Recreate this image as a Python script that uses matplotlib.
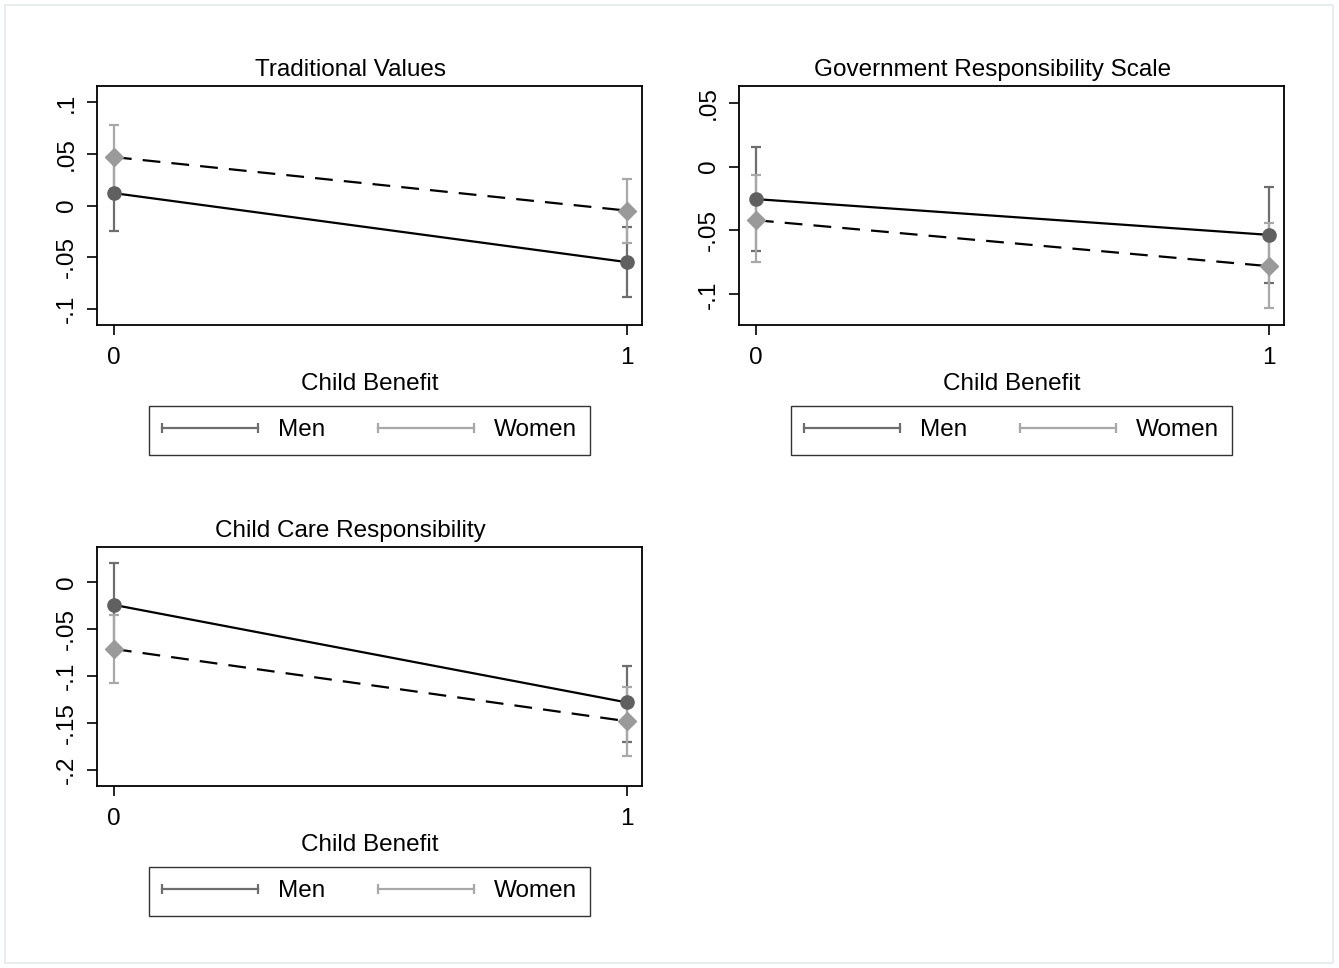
import matplotlib.pyplot as plt
from matplotlib.lines import Line2D
from matplotlib.legend_handler import HandlerBase
from matplotlib.patches import Rectangle

plt.rcParams['font.family'] = ['Liberation Sans', 'DejaVu Sans']

# Child benefit groups
x_vals = [0, 1]

# Traditional values: predicted margins with 95% CI
tv_men = [0.012, -0.055]
tv_men_lo = [-0.025, -0.089]
tv_men_hi = [0.048, -0.021]
tv_women = [0.047, -0.005]
tv_women_lo = [0.016, -0.036]
tv_women_hi = [0.078, 0.026]

# Government responsibility scale
gov_men = [-0.0255, -0.0535]
gov_men_lo = [-0.066, -0.091]
gov_men_hi = [0.0156, -0.016]
gov_women = [-0.042, -0.078]
gov_women_lo = [-0.075, -0.111]
gov_women_hi = [-0.007, -0.044]

# Child care responsibility
cc_men = [-0.024, -0.128]
cc_men_lo = [-0.069, -0.170]
cc_men_hi = [0.021, -0.089]
cc_women = [-0.071, -0.148]
cc_women_lo = [-0.1075, -0.185]
cc_women_hi = [-0.0345, -0.112]

tv_ticks = [-0.1, -0.05, 0, 0.05, 0.1]
tv_ticklabels = ['-.1', '-.05', '0', '.05', '.1']
gov_ticks = [-0.1, -0.05, 0, 0.05]
gov_ticklabels = ['-.1', '-.05', '0', '.05']
cc_ticks = [-0.2, -0.15, -0.1, -0.05, 0]
cc_ticklabels = ['-.2', '-.15', '-.1', '-.05', '0']

MEN_C = '#606060'
MEN_CI = '#6e6e6e'
WOMEN_C = '#9a9a9a'
WOMEN_CI = '#a8a8a8'
FS = 17.5


class HandlerCap(HandlerBase):
    # horizontal range-cap glyph for the legend keys
    def create_artists(self, legend, orig_handle, xdescent, ydescent,
                       width, height, fontsize, trans):
        y = height / 2 - ydescent
        c = orig_handle.get_color()
        line = Line2D([-xdescent, width - xdescent], [y, y], color=c, lw=1.6,
                      transform=trans)
        caps = Line2D([-xdescent, width - xdescent], [y, y], color=c,
                      linestyle='none', marker='|', markersize=7, mew=1.6,
                      transform=trans)
        return [line, caps]


def draw_panel(ax, title, men, men_lo, men_hi, women, women_lo, women_hi,
               ylim, ticks, ticklabels):
    men_err = [[m - lo for m, lo in zip(men, men_lo)],
               [hi - m for m, hi in zip(men, men_hi)]]
    women_err = [[w - lo for w, lo in zip(women, women_lo)],
                 [hi - w for w, hi in zip(women, women_hi)]]
    ax.errorbar(x_vals, men, yerr=men_err, fmt='none', ecolor=MEN_CI,
                elinewidth=1.6, capsize=3.5, capthick=1.6, zorder=2)
    ax.errorbar(x_vals, women, yerr=women_err, fmt='none', ecolor=WOMEN_CI,
                elinewidth=1.6, capsize=3.5, capthick=1.6, zorder=2)
    ax.plot(x_vals, men, color='black', lw=1.6, zorder=3)
    ax.plot(x_vals, women, color='black', lw=1.6, ls=(0, (8, 5)), zorder=3)
    ax.plot(x_vals, men, 'o', color=MEN_C, ms=9.5, mec=MEN_C, zorder=4)
    ax.plot(x_vals, women, 'D', color=WOMEN_C, ms=9, mec=WOMEN_C, zorder=4)

    ax.set_xlim(-0.033, 1.029)
    ax.set_ylim(*ylim)
    ax.set_xticks([0, 1])
    ax.set_xticklabels(['0', '1'])
    ax.set_yticks(ticks)
    ax.set_yticklabels(ticklabels, rotation=90, va='center')
    ax.tick_params(axis='both', direction='out', length=7, width=1.2,
                   labelsize=FS, pad=7)
    ax.tick_params(axis='x', pad=9)
    for s in ax.spines.values():
        s.set_linewidth(1.3)
    # title sits over the whole subgraph, y-axis labels included
    ax.set_title(title, fontsize=FS, pad=7, x=0.465)
    ax.set_xlabel('Child Benefit', fontsize=FS, labelpad=3)

    handles = [Line2D([], [], color=MEN_CI), Line2D([], [], color=WOMEN_CI)]
    leg = ax.legend(handles, ['Men', 'Women'], ncol=2, loc='upper center',
                    bbox_to_anchor=(0.5, -0.339), borderaxespad=0,
                    frameon=True, fancybox=False, edgecolor='black',
                    fontsize=FS, handlelength=3.95, handletextpad=0.8,
                    columnspacing=2.2, borderpad=0.55,
                    handler_map={Line2D: HandlerCap()})
    leg.get_frame().set_linewidth(1.0)


fig = plt.figure(figsize=(13.39, 9.68), dpi=100)
W, H = 1339, 968


def add_axes_px(left, top, right, bottom):
    return fig.add_axes([left / W, 1 - bottom / H, (right - left) / W,
                         (bottom - top) / H])


ax1 = add_axes_px(97, 86, 642, 325)
ax2 = add_axes_px(739, 86, 1284, 325)
ax3 = add_axes_px(97, 547, 642, 786)

draw_panel(ax1, 'Traditional Values', tv_men, tv_men_lo, tv_men_hi,
           tv_women, tv_women_lo, tv_women_hi, (-0.116, 0.116),
           tv_ticks, tv_ticklabels)
draw_panel(ax2, 'Government Responsibility Scale', gov_men, gov_men_lo,
           gov_men_hi, gov_women, gov_women_lo, gov_women_hi,
           (-0.124, 0.063), gov_ticks, gov_ticklabels)
draw_panel(ax3, 'Child Care Responsibility', cc_men, cc_men_lo, cc_men_hi,
           cc_women, cc_women_lo, cc_women_hi, (-0.217, 0.0377),
           cc_ticks, cc_ticklabels)

# faint outer graph-region frame
fig.patches.append(Rectangle((5 / W, 5 / H), 1 - 11 / W, 1 - 10 / H,
                             transform=fig.transFigure, fill=False,
                             edgecolor='#e6eaec', lw=1.2))

fig.savefig('out.png', dpi=100)
